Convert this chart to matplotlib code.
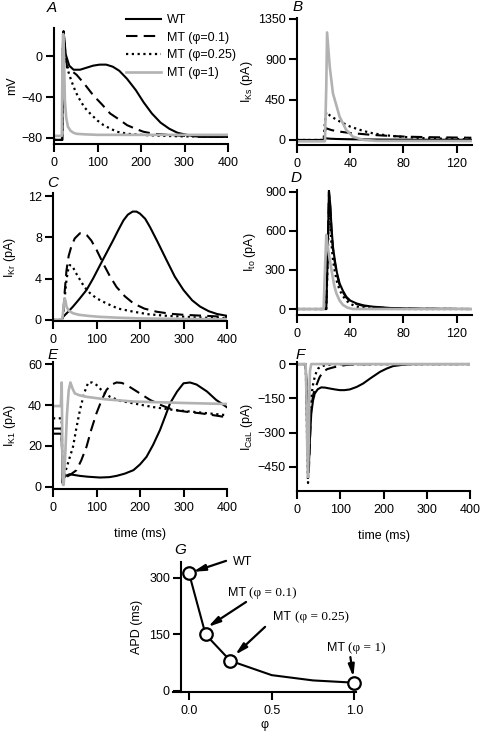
import numpy as np
import matplotlib
matplotlib.use("Agg")
import matplotlib.pyplot as plt

plt.rcParams['font.family'] = ['Liberation Sans', 'DejaVu Sans']
plt.rcParams['mathtext.fontset'] = 'custom'
plt.rcParams['mathtext.rm'] = 'Liberation Sans'
plt.rcParams['mathtext.it'] = 'Liberation Sans:italic'

# ---- panel A: membrane potential (mV)
a_t_wt = [0, 19, 20.5, 22, 27, 35, 45, 60, 75, 90, 105, 120, 135, 150, 168, 188, 206, 225, 245, 265, 284, 310, 338, 370, 400]
a_v_wt = [-82, -82, 10, 25, 2, -9, -13, -13, -11, -9, -8, -8, -10, -14, -22, -33, -45, -56, -65, -71, -75, -77.5, -79, -79, -79]
a_t_01 = [0, 19, 20.5, 22, 26, 30, 40, 52, 70, 90, 110, 129, 150, 168, 190, 206, 230, 261, 300, 350, 400]
a_v_01 = [-82, -82, 10, 24, 2, -10, -14, -18, -27, -38, -47, -56, -62, -67.5, -71.5, -74, -76, -77, -78, -78.5, -79]
a_t_025 = [0, 19, 20.5, 22, 26, 30, 40, 50, 60, 70, 83, 100, 114, 130, 145, 170, 199, 250, 300, 400]
a_v_025 = [-82, -82, 10, 24, 2, -11, -24, -35, -43, -50, -56, -63, -67.5, -71, -74, -76, -77, -78, -78.5, -79]
a_t_1 = [0, 18, 19.5, 21, 23, 25, 28, 32, 38, 45, 52, 70, 100, 200, 400]
a_v_1 = [-78, -78, 0, 22, 0, -43, -60, -69, -73, -75, -76, -76.5, -77, -77, -77]

# ---- panel B: IKs (pA)
b_t_wt = [0, 20, 21, 22, 25, 30, 40, 60, 90, 131]
b_v_wt = [0, 0, 20, 18, 14, 11, 8, 5, 3, 2]
b_t_01 = [0, 20, 21, 22, 26, 32, 40, 57, 70, 82, 100, 131]
b_v_01 = [0, 0, 100, 130, 110, 93, 78, 56, 45, 37, 31, 25]
b_t_025 = [0, 20, 21, 22, 25, 30, 35, 40, 50, 57, 67, 77, 97, 131]
b_v_025 = [0, 0, 200, 310, 270, 223, 185, 149, 100, 74, 52, 37, 19, 7]
b_t_1 = [0, 21, 22, 22.6, 24.6, 27, 32, 37, 42, 50, 60, 131]
b_v_1 = [-15, -15, 600, 1200, 818, 520, 260, 112, 37, 0, -10, -12]

# ---- panel C: IKr (pA)
c_t_wt = [0, 20, 23, 35, 46, 60, 77, 92, 108, 123, 138, 150, 162, 172, 183, 192, 200, 212, 223, 240, 261, 280, 300, 320, 338, 358, 377, 400]
c_v_wt = [0, 0, 0.3, 0.8, 1.3, 2.0, 2.9, 4.0, 5.3, 6.5, 7.7, 8.7, 9.65, 10.2, 10.5, 10.5, 10.3, 9.8, 9.0, 7.6, 5.8, 4.2, 2.9, 1.9, 1.3, 0.85, 0.58, 0.4]
c_t_01 = [0, 20, 23, 27, 31, 36, 42, 50, 62, 69, 78, 88, 100, 115, 130, 146, 165, 185, 210, 238, 270, 300, 350, 400]
c_v_01 = [0, 0, 0.3, 2.8, 4.8, 6.2, 7.1, 7.9, 8.4, 8.4, 8.2, 7.7, 6.8, 5.5, 4.3, 3.2, 2.3, 1.6, 1.1, 0.8, 0.6, 0.5, 0.4, 0.3]
c_t_025 = [0, 20, 23, 27, 31, 35, 38, 42, 46, 52, 62, 72, 85, 100, 123, 150, 185, 220, 262, 330, 400]
c_v_025 = [0, 0, 0.3, 2.2, 3.9, 4.9, 5.3, 5.3, 5.1, 4.6, 3.9, 3.2, 2.6, 2.1, 1.6, 1.1, 0.8, 0.55, 0.4, 0.25, 0.15]
c_t_1 = [0, 20, 22, 25, 27, 29, 31, 36, 46, 60, 80, 108, 150, 200, 300, 400]
c_v_1 = [0, 0, 0.3, 1.5, 2.1, 1.8, 1.3, 0.9, 0.65, 0.5, 0.4, 0.3, 0.22, 0.15, 0.1, 0.06]

# ---- panel D: Ito (pA)
d_t = [0, 22, 23, 24, 25, 25.9, 27, 28.4, 30, 32, 34.5, 37, 40, 44.7, 50, 57, 70, 90, 131]
d_v_wt = [0, 0, 400, 913, 800, 632, 480, 376, 280, 197, 140, 95, 65, 43, 28, 18, 8, 3, 0]
d_v_01 = [0, 0, 400, 900, 780, 610, 460, 360, 265, 185, 130, 88, 60, 38, 24, 15, 6, 2, 0]
d_v_025 = [0, 0, 350, 750, 640, 500, 380, 290, 210, 146, 100, 65, 40, 18, 8, 4, 1, 0, 0]
d_t_1 = [0, 20, 21, 22, 23.5, 25.9, 28, 29.6, 32, 34.6, 38, 42, 131]
d_v_1 = [0, 0, 300, 570, 450, 300, 180, 120, 65, 31, 10, 0, 0]

# ---- panel E: IK1 (pA)
e_t_wt = [0, 20, 22, 23, 30, 38, 50, 62, 80, 108, 130, 146, 165, 185, 200, 215, 230, 246, 258, 269, 285, 300, 315, 330, 354, 375, 400]
e_v_wt = [26, 26, 2, 4, 5.5, 6.2, 5.8, 5.4, 5.0, 4.6, 4.8, 5.4, 6.5, 8.2, 11, 14.7, 20.5, 27.8, 34.5, 40.8, 46.5, 50.6, 51, 50, 46.6, 42.5, 38.9]
e_t_01 = [0, 20, 22, 24, 31, 40, 54, 65, 77, 88, 100, 112, 123, 135, 146, 158, 169, 190, 223, 250, 277, 310, 338, 370, 400]
e_v_01 = [28.5, 28.5, 2, 3, 4.9, 6, 8.2, 13, 19.6, 28, 36, 42.5, 47.4, 50, 51, 50.8, 49.8, 47, 42.5, 39.8, 37.6, 36.6, 36, 35, 34]
e_t_025 = [0, 20, 22, 24, 27, 35, 46, 54, 62, 72, 81, 90, 100, 115, 131, 155, 185, 230, 277, 340, 400]
e_v_025 = [33.5, 33.5, 2, 3, 6.5, 12, 19.6, 29, 37.6, 46, 51, 51, 49.8, 46.5, 44, 42, 40.8, 39, 37.6, 36.3, 35]
e_t_1 = [0, 18, 19, 20, 21, 22, 23, 24.6, 28, 32, 36, 40, 45, 50, 60, 77, 120, 185, 300, 400]
e_v_1 = [39.5, 39.5, 45, 51, 30, 5, 1, 1, 15, 35, 47, 51, 48, 45.7, 44.8, 44, 42.8, 41.7, 41, 40.5]

# ---- panel F: ICaL (pA)
f_t_wt = [0, 20, 22, 24, 27, 30, 33, 37, 41, 48, 56, 65, 76, 88, 99, 110, 122, 138, 153, 170, 192, 207, 222, 245, 269, 300, 400]
f_v_wt = [0, 0, -100, -350, -465, -320, -216, -160, -129, -110, -102, -103, -107, -111, -114, -114, -111, -100, -85, -62, -34, -20, -9, -3, 0, 0, 0]
f_t_01 = [0, 20, 22, 24, 27, 30, 33, 38, 45, 52, 60, 70, 83, 100, 114, 140, 200, 400]
f_v_01 = [0, 0, -100, -350, -490, -330, -187, -130, -92, -58, -34, -22, -15, -8, -4, -1, 0, 0]
f_t_025 = [0, 20, 22, 24, 25.5, 28, 30, 33, 37, 41, 45, 49, 58, 68, 90, 400]
f_v_025 = [0, 0, -150, -420, -520, -350, -240, -143, -90, -56, -34, -19, -9, -4, -1, 0]
f_t_1 = [0, 20, 22, 24, 25.5, 27, 28.5, 30, 33, 400]
f_v_1 = [0, 0, -150, -400, -494, -350, -150, -30, 0, 0]

# ---- panel G: APD vs phi
g_phi = [0.0, 0.1, 0.25, 0.5, 0.75, 1.0]
g_apd = [312, 150, 80, 42, 28, 22]
g_mark_phi = [0.0, 0.1, 0.25, 1.0]
g_mark_apd = [312, 150, 80, 22]

labels = ["WT", "MT (\u03c6=0.1)", "MT (\u03c6=0.25)", "MT (\u03c6=1)"]

gray = "#b2b2b2"
styles = [dict(color="k", lw=1.5, ls="-"),
          dict(color="k", lw=1.5, dashes=(5.5, 3.0)),
          dict(color="k", lw=1.6, dashes=(1.0, 1.6)),
          dict(color=gray, lw=1.9, ls="-")]

W, H = 480, 733
fig = plt.figure(figsize=(W / 100, H / 100), dpi=100)


def rect(x0, x1, y_top, y_bot):
    return [x0 / W, 1 - y_bot / H, (x1 - x0) / W, (y_bot - y_top) / H]


def style_ax(ax):
    ax.spines['top'].set_visible(False)
    ax.spines['right'].set_visible(False)
    ax.spines['left'].set_linewidth(1.5)
    ax.spines['bottom'].set_linewidth(1.5)
    ax.tick_params(direction='out', length=5.5, width=1.5, labelsize=9)
    ax.tick_params(axis='x', pad=4)
    ax.tick_params(axis='y', pad=2.5)


def draw(ax, series):
    for (t, v), st in zip(series, styles):
        ax.plot(t, v, **st)


axA = fig.add_axes(rect(54, 228, 28, 144))
draw(axA, [(a_t_wt, a_v_wt), (a_t_01, a_v_01), (a_t_025, a_v_025), (a_t_1, a_v_1)])
axA.set(xlim=(0, 400), ylim=(-86, 28), xticks=[0, 100, 200, 300, 400], yticks=[-80, -40, 0])
axA.set_ylabel("mV", fontsize=9)
axA.yaxis.set_label_coords(-0.205, 0.5)

axB = fig.add_axes(rect(297, 472, 18, 145))
draw(axB, [(b_t_wt, b_v_wt), (b_t_01, b_v_01), (b_t_025, b_v_025), (b_t_1, b_v_1)])
axB.set(xlim=(0, 131.5), ylim=(-56, 1361), xticks=[0, 40, 80, 120], yticks=[0, 450, 900, 1350])
axB.set_ylabel(r"I$_{\rm Ks}$ (pA)", fontsize=9)
axB.yaxis.set_label_coords(-0.24, 0.5)

axC = fig.add_axes(rect(53, 227, 193, 321))
draw(axC, [(c_t_wt, c_v_wt), (c_t_01, c_v_01), (c_t_025, c_v_025), (c_t_1, c_v_1)])
axC.set(xlim=(0, 400), ylim=(-0.1, 12.3), xticks=[0, 100, 200, 300, 400], yticks=[0, 4, 8, 12])
axC.set_ylabel(r"I$_{\rm Kr}$ (pA)", fontsize=9)
axC.yaxis.set_label_coords(-0.2, 0.5)

axD = fig.add_axes(rect(297, 472, 190, 315))
draw(axD, [(d_t, d_v_wt), (d_t, d_v_01), (d_t, d_v_025), (d_t_1, d_v_1)])
axD.set(xlim=(0, 131.5), ylim=(-46, 915), xticks=[0, 40, 80, 120], yticks=[0, 300, 600, 900])
axD.set_ylabel(r"I$_{\rm to}$ (pA)", fontsize=9)
axD.yaxis.set_label_coords(-0.22, 0.5)

axE = fig.add_axes(rect(53, 227, 362, 489))
draw(axE, [(e_t_wt, e_v_wt), (e_t_01, e_v_01), (e_t_025, e_v_025), (e_t_1, e_v_1)])
axE.set(xlim=(0, 400), ylim=(-1, 61), xticks=[0, 100, 200, 300, 400], yticks=[0, 20, 40, 60])
axE.set_ylabel(r"I$_{\rm K1}$ (pA)", fontsize=9)
axE.yaxis.set_label_coords(-0.2, 0.5)
axE.set_xlabel("time (ms)", fontsize=9, labelpad=10)

axF = fig.add_axes(rect(297, 470, 362, 491))
draw(axF, [(f_t_wt, f_v_wt), (f_t_01, f_v_01), (f_t_025, f_v_025), (f_t_1, f_v_1)])
axF.set(xlim=(0, 400), ylim=(-555, 9), xticks=[0, 100, 200, 300, 400], yticks=[-450, -300, -150, 0])
axF.set_ylabel(r"I$_{\rm CaL}$ (pA)", fontsize=9)
axF.yaxis.set_label_coords(-0.24, 0.5)
axF.set_xlabel("time (ms)", fontsize=9, labelpad=10)

for ax in [axA, axB, axC, axD, axE, axF]:
    style_ax(ax)

leg_handles = axA.get_lines()
fig.legend(leg_handles, labels, loc='upper left', bbox_to_anchor=(126 / W, 1 - 14 / H),
           frameon=False, fontsize=9, handlelength=2.8, handletextpad=0.5,
           labelspacing=0.45, borderpad=0, borderaxespad=0)

# ---- panel G
axG = fig.add_axes(rect(173, 356, 562, 692))
axG.plot(g_phi, g_apd, color="k", lw=1.5)
axG.plot(g_mark_phi, g_mark_apd, ls="none", marker="o", ms=9, mfc="white",
         mec="k", mew=1.6, clip_on=False)
axG.set(xlim=(-0.097, 1.01), ylim=(-2.7, 342), xticks=[0, 0.5, 1.0], yticks=[0, 150, 300])
axG.set_xticklabels(["0.0", "0.5", "1.0"])
style_ax(axG)
axG.spines['left'].set_position(('data', -0.048))
axG.set_ylabel("APD (ms)", fontsize=9)
axG.yaxis.set_label_coords(-0.165, 0.5)
axG.set_xlabel("\u03c6", fontsize=9, labelpad=1)

arrow = dict(arrowstyle='-|>,head_length=0.7,head_width=0.18', color='k', lw=1.6,
             shrinkA=0, shrinkB=0)
ann = [("WT", (0.267, 342), (0.224, 345), (0.024, 316), False),
       ("MT (\u03c6 = 0.1)", (0.236, 260), (0.345, 236), (0.115, 170), True),
       ("MT (\u03c6 = 0.25)", (0.51, 196), (0.46, 170), (0.279, 96), True),
       ("MT (\u03c6 = 1)", (0.836, 114), (0.976, 90), (0.994, 37), True)]
for txt, tpos, tail, head, serif in ann:
    axG.annotate("", xy=head, xytext=tail, arrowprops=arrow, annotation_clip=False)
    if serif:
        mt, rest = txt.split(" ", 1)
        t1 = axG.text(tpos[0], tpos[1], mt + " ", fontsize=9, ha='left', va='center')
        fig.canvas.draw()
        bb = t1.get_window_extent().transformed(axG.transData.inverted())
        axG.text(bb.x1, tpos[1], rest, fontsize=9.5, ha='left', va='center',
                 family=['Liberation Serif', 'DejaVu Serif'])
    else:
        axG.text(tpos[0], tpos[1], txt, fontsize=9, ha='left', va='center')

# panel letters
for letter, (px, py) in zip("ABCDEFG", [(52, 8), (298, 7), (53, 183), (296, 178),
                                       (53, 355), (300, 355), (180, 550)]):
    fig.text(px / W, 1 - py / H, letter, fontsize=11, style='italic',
             ha='center', va='center')

fig.savefig("out.png", dpi=100)
